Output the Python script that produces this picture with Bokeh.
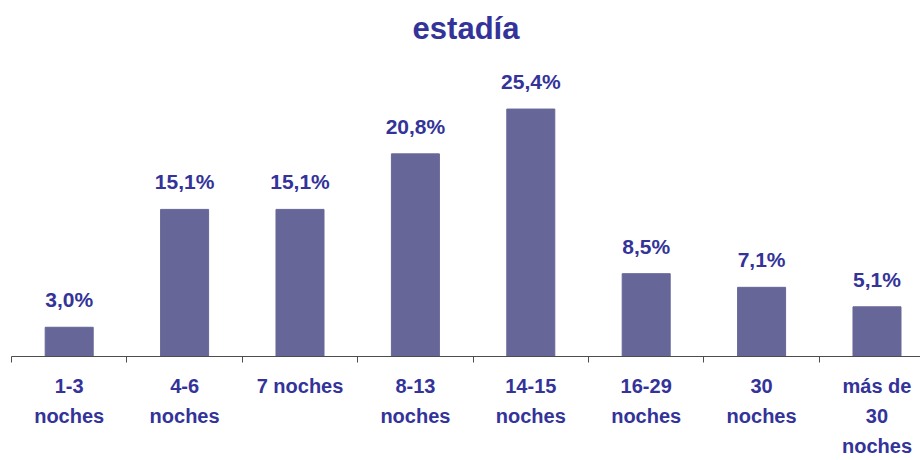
from bokeh.plotting import figure
from bokeh.models import Range1d, FixedTicker, ColumnDataSource
from bokeh.embed import file_html
from bokeh.resources import INLINE
from bokeh.core.properties import value

categories = ["1-3\nnoches", "4-6\nnoches", "7 noches", "8-13\nnoches", "14-15\nnoches",
              "16-29\nnoches", "30\nnoches", "más de\n30\nnoches"]
values = [3.0, 15.1, 15.1, 20.8, 25.4, 8.5, 7.1, 5.1]
labels = [("%.1f%%" % v).replace(".", ",") for v in values]

xs = list(range(len(categories)))
src = ColumnDataSource(dict(x=xs, top=values, lab=labels))

FONT = "Liberation Sans"
TXT = "#333399"

p = figure(width=920, height=460, output_backend="svg", toolbar_location=None,
           x_range=Range1d(-0.5, 7.377), y_range=Range1d(0, 31.0),
           y_axis_location=None, min_border_left=11, min_border_right=0,
           min_border_top=54, title="estadía")
p.title.align = "center"
p.title.text_font = FONT
p.title.text_font_size = "31px"
p.title.text_font_style = "bold"
p.title.text_color = TXT
p.title.standoff = 17

p.vbar(x="x", top="top", width=0.416, source=src, color="#666699")
p.text(x="x", y="top", text="lab", source=src, text_align="center", text_baseline="bottom",
       y_offset=-16, text_font=value(FONT), text_font_size="21px", text_font_style="bold",
       text_color=TXT)

p.xgrid.visible = False
p.ygrid.visible = False
p.outline_line_color = None

ax = p.xaxis[0]
ax.ticker = FixedTicker(ticks=xs, minor_ticks=[i - 0.5 for i in range(len(categories) + 1)])
ax.major_label_overrides = {i: c for i, c in enumerate(categories)}
ax.major_tick_out = 0
ax.major_tick_in = 0
ax.minor_tick_out = 6
ax.minor_tick_in = 0
ax.minor_tick_line_color = "#4d4d4d"
ax.axis_line_color = "#4d4d4d"
ax.major_label_standoff = 12
ax.major_label_text_font = FONT
ax.major_label_text_font_size = "20px"
ax.major_label_text_font_style = "bold"
ax.major_label_text_color = TXT
ax.major_label_text_line_height = 1.38

open("out.html", "w").write(file_html(p, INLINE))
